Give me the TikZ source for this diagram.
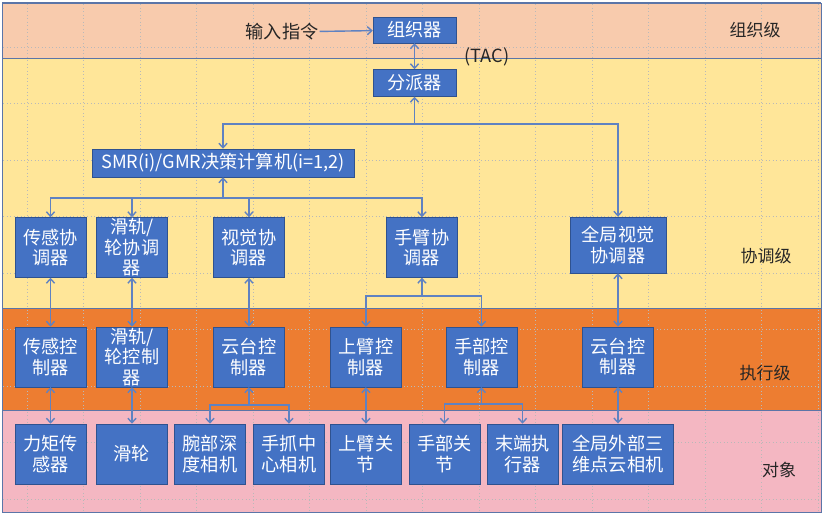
\documentclass[tikz,border=0pt]{standalone}
\usepackage{fontspec}
\setmainfont{Noto Sans CJK SC}
\usetikzlibrary{positioning,arrows.meta}

\definecolor{orgband}{HTML}{F8CBAD}
\definecolor{coordband}{HTML}{FFE699}
\definecolor{execband}{HTML}{ED7D31}
\definecolor{objband}{HTML}{F4B7C2}
\definecolor{unitblue}{HTML}{4472C4}
\definecolor{unitborder}{HTML}{2F528F}
\definecolor{linkblue}{HTML}{5F82C2}
\definecolor{bandline}{HTML}{5B75A8}
\definecolor{labeltext}{HTML}{262626}

\begin{document}
\begin{tikzpicture}[
x=0.03cm, y=-0.03cm,
>={Straight Barb[length=3.8pt,width=7pt]},
unit/.style={
draw=unitborder,
fill=unitblue,
text=white,
font=\fontsize{15.5}{17.5}\selectfont,
align=center,
inner sep=1pt,
minimum width=2.13cm,
minimum height=1.8cm},
tight/.style={inner ysep=0pt},
link/.style={draw=linkblue, line width=1.2pt},
level/.style={text=labeltext, font=\fontsize{14.5}{17}\selectfont, inner sep=1pt},
gridline/.style={draw=gray!55, line width=0.35pt, dash pattern=on 0.5pt off 2.5pt}
]

\useasboundingbox (0,0) rectangle (823,513);

% bands
\fill[orgband] (2,3) rectangle (821,58);
\fill[coordband] (2,58) rectangle (821,308);
\fill[execband] (2,308) rectangle (821,410);
\fill[objband] (2,410) rectangle (821,512);

\foreach \gx in {0,...,14}
\draw[gridline] ({27+56.5*\gx},4) -- ({27+56.5*\gx},511);
\foreach \gy in {0,...,8}
\draw[gridline] (3,{47+56.5*\gy}) -- (820,{47+56.5*\gy});

\draw[bandline, line width=0.6pt] (2,3) rectangle (821,512);
\draw[bandline, line width=0.6pt] (2,58) -- (821,58);
\draw[bandline, line width=0.6pt] (2,308) -- (821,308);
\draw[bandline, line width=0.6pt] (2,410) -- (821,410);
\draw[bandline, line width=1.4pt] (2,3) -- (821,3);

% level labels
\node[level] (lvorg) at (755,30) {组织级};
\node[level] (lvcoord) at (766,256) {协调级};
\node[level] (lvexec) at (765,373) {执行级};
\node[level] (lvobj) at (779,470) {对象};

% organisation
\node[unit, minimum width=2.49cm, minimum height=0.78cm] (org) at (414.5,30) {组织器};
\node[level, font=\fontsize{15.5}{17}\selectfont] (input) at (282,32) {输入指令};
\node[unit, minimum width=2.49cm, minimum height=0.81cm] (disp) [below=0.78cm of org] {分派器};
\node[level, font=\fontsize{15.5}{17}\selectfont] (tac) at (487,57) {(TAC)};
\node[unit, minimum width=7.86cm, minimum height=0.84cm] (smr) at (223,163) {SMR(i)/GMR决策计算机(i=1,2)};

% coordination
\node[unit] (cs) at (50.5,247.5) {传感协\\调器};
\node[unit, tight] (cr) [right=0.3cm of cs] {滑轨/\\轮协调\\器};
\node[unit] (cv) [right=1.365cm of cr] {视觉协\\调器};
\node[unit] (ca) [right=3.045cm of cv] {手臂协\\调器};
\node[unit, minimum width=2.88cm, minimum height=1.68cm] (cg) at (618,245) {全局视觉\\协调器};

% execution
\node[unit] (es) [below=1.47cm of cs] {传感控\\制器};
\node[unit, tight] (er) [below=1.47cm of cr] {滑轨/\\轮控制\\器};
\node[unit] (ev) [below=1.47cm of cv] {云台控\\制器};
\node[unit] (eu) [right=1.365cm of ev] {上臂控\\制器};
\node[unit] (eh) [right=1.32cm of eu] {手部控\\制器};
\node[unit] (eg) [below=1.6cm of cg] {云台控\\制器};

% objects
\node[unit] (os) [below=1.095cm of es] {力矩传\\感器};
\node[unit] (or) [below=1.095cm of er] {滑轮};
\node[unit] (ow) [right=0.195cm of or] {腕部深\\度相机};
\node[unit] (og) [right=0.225cm of ow] {手抓中\\心相机};
\node[unit] (ou) [below=1.095cm of eu] {上臂关\\节};
\node[unit] (oh) [right=0.21cm of ou] {手部关\\节};
\node[unit] (oe) [right=0.2cm of oh] {末端执\\行器};
\node[unit, minimum width=3.33cm] (oc) [below=1.095cm of eg] {全局外部三\\维点云相机};

% junctions
\coordinate (j1) at (disp |- 0,124);
\coordinate (j2) at (smr |- 0,198);
\coordinate (j3) at (ca |- 0,296);
\coordinate (j4) at (ev |- 0,405);
\coordinate (j5) at (eh |- 0,404);

\draw[link,->] (input) -- (org);
\draw[link,<->] (org) -- (disp);

\draw[link,->] (j1) -- (disp);
\draw[link,->] (j1) -| (smr);
\draw[link,->] (j1) -| (cg);

\draw[link,->] (j2) -- (smr);
\draw[link,->] (j2) -| (cs);
\draw[link,->] (j2) -| (cr);
\draw[link,->] (j2) -| (cv);
\draw[link,->] (j2) -| (ca);

\draw[link,<->] (cs) -- (es);
\draw[link,<->] (cr) -- (er);
\draw[link,<->] (cv) -- (ev);
\draw[link,->] (j3) -- (ca);
\draw[link,->] (j3) -| (eu);
\draw[link,->] (j3) -| (eh);
\draw[link,<->] (cg) -- (eg);

\draw[link,<->] (es) -- (os);
\draw[link,<->] (er) -- (or);
\draw[link,->] (j4) -- (ev);
\draw[link,->] (j4) -| (ow);
\draw[link,->] (j4) -| (og);
\draw[link,<->] (eu) -- (ou);
\draw[link,->] (j5) -- (eh);
\draw[link,->] (j5) -| (oh);
\draw[link,->] (j5) -| (oe);
\draw[link,<->] (eg) -- (oc);

\end{tikzpicture}
\end{document}
